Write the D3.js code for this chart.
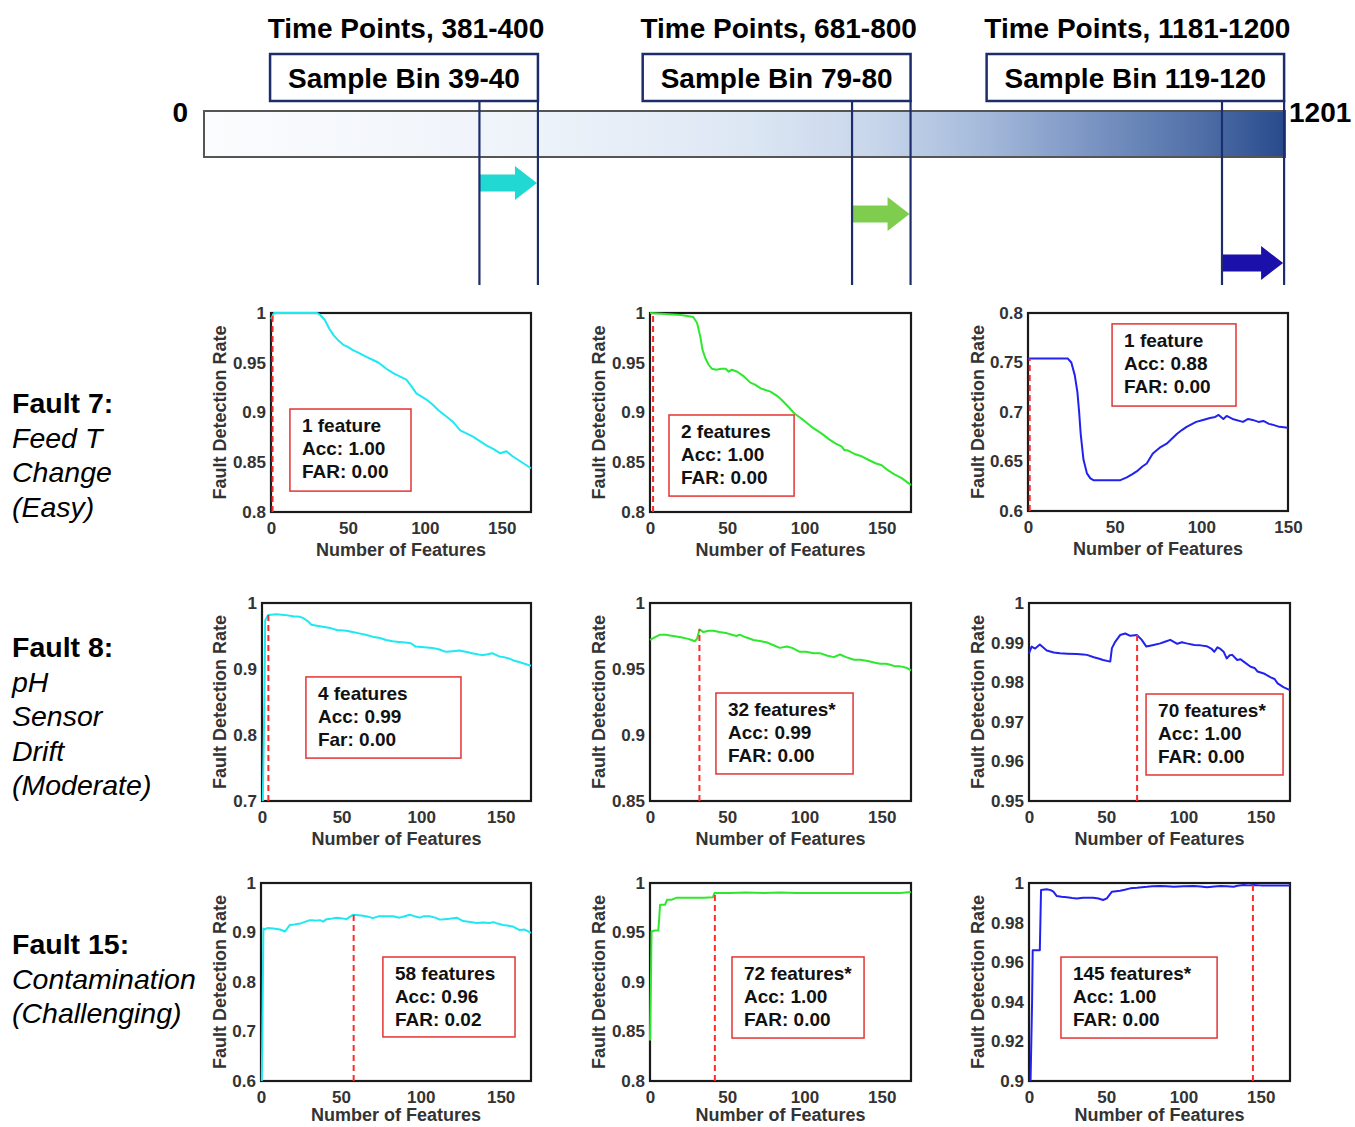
<!DOCTYPE html>
<html>
<head>
<meta charset="utf-8">
<script src="https://cdn.jsdelivr.net/npm/d3@7"></script>
<style>
  body { margin: 0; background: #fff; }
  text { font-family: "Liberation Sans", Arial, sans-serif; }
</style>
</head>
<body>
<svg id="chart"></svg>
<script>
// ---- timeline data ----
const timeMax = 1201
const timeRanges = ['381-400', '681-800', '1181-1200']
const binLabels = ['39-40', '79-80', '119-120']
const binStart = [306, 720, 1131]
const binEnd = [371, 785, 1200]

// ---- fault rows ----
const faultNames = ['Fault 7:', 'Fault 8:', 'Fault 15:']
const faultDesc = [
  ['Feed T', 'Change', '(Easy)'],
  ['pH', 'Sensor', 'Drift', '(Moderate)'],
  ['Contamination', '(Challenging)']
]

// ---- series: [number of features, fault detection rate] ----
const f7Bin40 = [[0,0.994],[2,1],[30,1],[32,0.998],[35,0.993],[38,0.984],[40.5,0.978],[44,0.972],[47,0.968],[50,0.966],[53,0.963],[57,0.960],[62,0.956],[66,0.953],[70,0.950],[75,0.944],[80,0.939],[84,0.936],[88,0.933],[91,0.927],[94.6,0.919],[98,0.916],[101,0.913],[105,0.908],[109,0.902],[114,0.896],[118,0.891],[123,0.882],[127,0.879],[131,0.876],[136,0.871],[140,0.867],[145,0.863],[149,0.859],[153,0.861],[157,0.856],[160,0.853],[164,0.849],[169,0.844]]
const f7Bin80 = [[0,1],[10,0.999],[20,0.998],[28,0.996],[30.5,0.990],[32.6,0.976],[34,0.963],[36,0.954],[38,0.948],[40,0.944],[43,0.943],[46,0.944],[49,0.944],[51,0.941],[53,0.943],[56.5,0.941],[61,0.936],[65,0.930],[68,0.928],[72,0.924],[78,0.921],[82,0.917],[85,0.913],[90,0.905],[93.5,0.899],[98,0.894],[102,0.889],[106,0.884],[111,0.879],[116,0.873],[120,0.869],[124,0.866],[126,0.862],[128,0.862],[133,0.858],[137,0.856],[142,0.852],[146,0.849],[150,0.847],[154,0.842],[158,0.838],[163,0.834],[169,0.827]]
const f7Bin120 = [[0,0.754],[23,0.754],[25,0.750],[27,0.737],[28.5,0.720],[29.5,0.700],[30.4,0.678],[32,0.652],[34,0.638],[36,0.633],[38,0.631],[45,0.631],[53,0.631],[57,0.634],[60,0.637],[62.7,0.640],[66,0.645],[68.5,0.648],[72,0.658],[76,0.664],[80,0.668],[83,0.673],[86,0.678],[89,0.682],[91.5,0.685],[97,0.690],[101,0.692],[105,0.694],[108,0.695],[110,0.697],[112.7,0.693],[114.6,0.696],[118,0.693],[124,0.690],[127,0.693],[129.6,0.692],[133,0.690],[135.8,0.691],[139,0.688],[141.5,0.687],[145,0.685],[150,0.684]]
const f8Bin40 = [[0.5,0.700],[1.5,0.85],[2,0.974],[4,0.982],[9,0.983],[14,0.982],[19.5,0.980],[24,0.979],[26,0.977],[29,0.972],[31,0.967],[38,0.964],[43,0.962],[47,0.959],[53,0.958],[57,0.956],[61,0.954],[65,0.952],[69.5,0.949],[74,0.947],[78,0.944],[82,0.942],[86,0.941],[90,0.940],[93.5,0.939],[96.5,0.934],[102,0.933],[107,0.932],[111,0.930],[115.5,0.926],[120,0.927],[124,0.928],[128,0.926],[132,0.924],[138,0.921],[141,0.922],[144.6,0.924],[149,0.919],[152,0.918],[155,0.916],[158,0.913],[161,0.911],[165,0.908],[169,0.905]]
const f8Bin80 = [[0,0.972],[3,0.974],[6.5,0.976],[10,0.976],[15,0.975],[20,0.974],[24,0.973],[27,0.972],[29,0.971],[30.5,0.973],[32,0.980],[34.6,0.978],[38,0.979],[41,0.979],[45,0.978],[50,0.977],[53,0.976],[56,0.975],[58,0.976],[62,0.974],[67,0.972],[72,0.971],[76,0.970],[80,0.968],[84,0.966],[88.7,0.967],[92,0.966],[97,0.963],[101,0.963],[106,0.962],[110,0.962],[115,0.960],[119,0.959],[123,0.961],[127,0.959],[132,0.957],[136,0.957],[141,0.956],[145,0.955],[149,0.954],[153,0.954],[156,0.953],[159,0.952],[162,0.952],[166,0.951],[169,0.949]]
const f8Bin120 = [[0,0.9873],[1.7,0.989],[4,0.9885],[7,0.9895],[11.5,0.988],[16,0.9875],[20,0.9873],[25,0.9872],[31,0.9871],[35,0.9870],[37.5,0.9869],[42,0.9863],[45,0.9860],[48,0.9856],[52.6,0.9852],[53.7,0.9886],[55.8,0.9902],[59,0.9919],[62.3,0.9923],[65.6,0.9917],[70,0.9919],[73,0.9907],[76,0.9890],[80.7,0.9894],[85,0.9898],[88,0.9902],[91.5,0.9907],[96,0.9897],[99,0.9901],[102,0.9898],[107,0.9894],[111,0.9893],[115,0.9891],[118,0.9885],[120,0.9877],[122,0.9888],[124,0.9884],[126,0.9877],[128,0.9860],[130,0.9868],[131.6,0.9869],[134.8,0.9856],[137,0.9858],[139,0.9852],[143.5,0.9839],[146,0.9836],[148,0.9827],[152,0.9822],[156.5,0.9812],[159,0.9808],[161,0.9797],[165,0.9787],[169,0.9780]]
const f15Bin40 = [[0.5,0.60],[1,0.75],[1.5,0.908],[2,0.906],[4,0.909],[7.7,0.908],[11.9,0.906],[15,0.902],[18,0.915],[21,0.916],[24.4,0.918],[27,0.921],[30.6,0.925],[34,0.924],[36.9,0.925],[39,0.922],[41,0.927],[44,0.928],[47.3,0.930],[50,0.929],[53.5,0.927],[57.7,0.936],[61,0.935],[64,0.934],[67,0.932],[70,0.929],[74,0.933],[78,0.933],[82.7,0.933],[86.8,0.930],[90,0.933],[93,0.936],[96,0.933],[99.4,0.930],[102,0.933],[105.6,0.933],[109,0.930],[112,0.926],[115,0.927],[118,0.928],[122.5,0.930],[126.5,0.923],[131,0.921],[135,0.919],[139,0.920],[143,0.919],[145.6,0.921],[148,0.918],[151.5,0.915],[154,0.914],[157.7,0.912],[162,0.905],[165,0.906],[169,0.899]]
const f15Bin80 = [[0,0.841],[0.6,0.90],[1,0.951],[3,0.952],[5.4,0.952],[6,0.965],[6.5,0.978],[9.7,0.978],[11,0.983],[13.8,0.983],[17,0.985],[26,0.985],[35,0.985],[40.7,0.9855],[41.8,0.990],[51.9,0.990],[62,0.9905],[73.6,0.990],[84,0.9905],[95,0.990],[106,0.990],[117,0.990],[127,0.990],[138,0.990],[149,0.990],[162,0.990],[169,0.991]]
const f15Bin120 = [[1,0.90],[2,0.94],[2.4,0.966],[7,0.966],[7.8,0.9965],[11.5,0.9968],[14,0.9964],[15.8,0.9956],[18,0.9934],[21,0.993],[24.5,0.9928],[28,0.9924],[31,0.9922],[35,0.9926],[38,0.9925],[41.6,0.9926],[45,0.9922],[48,0.9914],[50.4,0.9922],[53.7,0.9956],[59,0.9961],[62,0.9966],[65.6,0.9973],[70,0.9976],[73,0.9979],[76.4,0.9981],[80,0.9984],[85,0.9985],[89,0.9983],[93.8,0.9981],[100,0.9984],[106.7,0.9985],[111,0.9982],[115.3,0.9978],[120,0.9982],[124,0.9985],[128,0.9983],[132.5,0.9981],[135,0.9986],[139,0.9990],[142,0.9988],[145.6,0.9990],[150,0.9988],[154,0.9987],[160,0.9987],[163,0.9987],[169,0.9987]]

const series = [f7Bin40, f7Bin80, f7Bin120, f8Bin40, f8Bin80, f8Bin120, f15Bin40, f15Bin80, f15Bin120]
const xMax = [169, 169, 150, 169, 169, 169, 169, 169, 169]
const yDomains = [[0.8, 1], [0.8, 1], [0.6, 0.8], [0.7, 1], [0.85, 1], [0.95, 1], [0.6, 1], [0.8, 1], [0.9, 1]]
const yStep = [0.05, 0.05, 0.05, 0.1, 0.05, 0.01, 0.1, 0.05, 0.02]
const xTickValues = [0, 50, 100, 150]
const markerX = [1, 2, 1, 4, 32, 70, 58, 42, 145]

// annotation texts
const featLabels = ['1 feature', '2 features', '1 feature', '4 features', '32 features*', '70 features*', '58 features', '72 features*', '145 features*']
const accValues = ['1.00', '1.00', '0.88', '0.99', '0.99', '1.00', '0.96', '1.00', '1.00']
const farNames = ['FAR', 'FAR', 'FAR', 'Far', 'FAR', 'FAR', 'FAR', 'FAR', 'FAR']
const farValues = ['0.00', '0.00', '0.00', '0.00', '0.00', '0.00', '0.02', '0.00', '0.00']
// annotation box corners in data units: [x0, x1, yTop, yBottom]
const annotBoxes = [
  [12.3, 91, 0.9035, 0.821], [12.3, 93.3, 0.8975, 0.816], [48.5, 120, 0.789, 0.706],
  [27.6, 125, 0.888, 0.765], [42.7, 131.5, 0.9318, 0.8705], [75.8, 164.5, 0.97702, 0.95657],
  [76.3, 159, 0.8505, 0.689], [53.1, 138.6, 0.9253, 0.8434], [20.7, 121.8, 0.9626, 0.9217]
]

// ---- layout ----
const W = 1355, H = 1127
const panelRects = [
  [271, 313, 531, 512], [650, 313, 911, 512], [1028, 313, 1288, 511],
  [262, 603, 531, 801], [650, 603, 911, 801], [1029, 603, 1290, 801],
  [261, 883, 531, 1081], [650, 883, 911, 1081], [1029, 883, 1290, 1081]
]
const yLabelX = [219, 598, 977]
const lineColors = ['#1ee8f2', '#2de82d', '#2222ee']
const arrowColors = ['#22d8d2', '#7fcd4f', '#1b10aa']
const arrowY = [183, 214, 263]
const rowLabelY = [413, 657, 954]
const navy = '#1d2c6b'

const svg = d3.select('#chart').attr('width', W).attr('height', H)

// ---- top timeline ----
const defs = svg.append('defs')
const grad = defs.append('linearGradient').attr('id', 'timeGrad')
  .attr('x1', '0%').attr('x2', '100%').attr('y1', '0%').attr('y2', '0%')
;[[0, '#fbfcfe'], [0.3, '#eef3fa'], [0.5, '#dde7f4'], [0.62, '#c8d6eb'], [0.72, '#a5badb'], [0.82, '#7b95c3'], [0.92, '#5170a8'], [1, '#284a8c']]
  .forEach(([o, c]) => grad.append('stop').attr('offset', o).attr('stop-color', c))

const tx = d3.scaleLinear().domain([0, timeMax]).range([204, 1285])

svg.append('rect')
  .attr('x', tx(0)).attr('y', 111)
  .attr('width', tx(timeMax) - tx(0)).attr('height', 46)
  .attr('fill', 'url(#timeGrad)')
  .attr('stroke', '#555').attr('stroke-width', 2)

svg.append('text').attr('x', tx(0) - 16).attr('y', 122)
  .attr('text-anchor', 'end').attr('font-size', 28).attr('font-weight', 'bold').text('0')
svg.append('text').attr('x', tx(timeMax) + 4).attr('y', 122)
  .attr('font-size', 28).attr('font-weight', 'bold').text(String(timeMax))

binLabels.forEach((b, i) => {
  let g = svg.append('g')
  let x0 = tx(binStart[i]), x1 = tx(binEnd[i])

  // arrow
  let cy = arrowY[i], len = x1 - x0 - 1, head = 22
  g.append('path')
    .attr('d', `M${x0},${cy - 8.5} H${x0 + len - head} V${cy - 17} L${x0 + len},${cy} L${x0 + len - head},${cy + 17} V${cy + 8.5} H${x0} Z`)
    .attr('fill', arrowColors[i])

  // bracket lines
  ;[x0, x1].forEach(x => {
    g.append('line').attr('x1', x).attr('x2', x).attr('y1', 100).attr('y2', 285)
      .attr('stroke', navy).attr('stroke-width', 2.2)
  })

  // bin box, right aligned on bracket end
  let label = g.append('text').attr('font-size', 28).attr('font-weight', 'bold')
    .attr('text-anchor', 'middle').text('Sample Bin ' + b)
  let tw = label.node().getComputedTextLength()
  let bw = tw + 36
  let bx = x1 - bw
  g.insert('rect', 'text').attr('x', bx).attr('y', 54).attr('width', bw).attr('height', 47)
    .attr('fill', '#fff').attr('stroke', navy).attr('stroke-width', 2.5)
  label.attr('x', bx + bw / 2).attr('y', 88)

  g.append('text').attr('x', bx + bw / 2 + 2).attr('y', 38)
    .attr('text-anchor', 'middle').attr('font-size', 28).attr('font-weight', 'bold')
    .text('Time Points, ' + timeRanges[i])
})

// ---- row labels ----
faultNames.forEach((name, r) => {
  let t = svg.append('text').attr('x', 12).attr('y', rowLabelY[r]).attr('font-size', 28.5)
  t.append('tspan').attr('x', 12).attr('font-weight', 'bold').text(name)
  faultDesc[r].forEach(d => {
    t.append('tspan').attr('x', 12).attr('dy', 34.5).attr('font-style', 'italic').text(d)
  })
})

// ---- panels ----
const fmt = d => String(+d.toFixed(3))

series.forEach((data, i) => {
  let [left, top, right, bottom] = panelRects[i]
  let col = i % 3
  let x = d3.scaleLinear().domain([0, xMax[i]]).range([left, right])
  let y = d3.scaleLinear().domain(yDomains[i]).range([bottom, top])
  let g = svg.append('g')

  let yTicks = d3.range(yDomains[i][0], yDomains[i][1] + yStep[i] / 2, yStep[i]).map(v => +v.toFixed(3))

  let yAxis = g.append('g').attr('transform', `translate(${left},0)`)
    .call(d3.axisLeft(y).tickValues(yTicks).tickFormat(fmt).tickSize(0).tickPadding(5))
  let xAxis = g.append('g').attr('transform', `translate(0,${bottom})`)
    .call(d3.axisBottom(x).tickValues(xTickValues).tickFormat(d3.format('d')).tickSize(0).tickPadding(10))
  ;[yAxis, xAxis].forEach(a => {
    a.select('.domain').remove()
    a.selectAll('text').attr('font-size', 17).attr('font-weight', 'bold')
      .attr('fill', '#333').style('font-family', '"Liberation Sans", Arial, sans-serif')
  })

  // axis titles
  g.append('text')
    .attr('transform', `translate(${yLabelX[col] + 6.5},${(top + bottom) / 2}) rotate(-90)`)
    .attr('text-anchor', 'middle').attr('font-size', 18).attr('font-weight', 'bold')
    .attr('fill', '#333').text('Fault Detection Rate')
  g.append('text')
    .attr('x', (left + right) / 2).attr('y', Math.min(bottom + 44, H - 6))
    .attr('text-anchor', 'middle').attr('font-size', 18).attr('font-weight', 'bold')
    .attr('fill', '#333').text('Number of Features')

  // frame (drawn under the curves, as in the original)
  g.append('rect').attr('x', left).attr('y', top)
    .attr('width', right - left).attr('height', bottom - top)
    .attr('fill', 'none').attr('stroke', '#1a1a1a').attr('stroke-width', 2.2)

  // selected feature marker
  let mx = markerX[i]
  let bis = d3.bisector(d => d[0]).left
  let k = Math.min(Math.max(bis(data, mx), 1), data.length - 1)
  let a = data[k - 1], b = data[k]
  let my = a[1] + (b[1] - a[1]) * (mx - a[0]) / (b[0] - a[0])
  my = Math.min(Math.max(my, yDomains[i][0]), yDomains[i][1])

  // series line
  g.append('path').datum(data)
    .attr('d', d3.line().x(d => x(d[0])).y(d => y(d[1])))
    .attr('fill', 'none').attr('stroke', lineColors[col]).attr('stroke-width', 2)
    .attr('stroke-linejoin', 'round')

  g.append('line')
    .attr('x1', x(mx)).attr('x2', x(mx)).attr('y1', y(yDomains[i][0])).attr('y2', y(my))
    .attr('stroke', '#ff2b2b').attr('stroke-width', 2).attr('stroke-dasharray', '6,4')

  // annotation box
  let [bx0, bx1, byT, byB] = annotBoxes[i]
  g.append('rect')
    .attr('x', x(bx0)).attr('y', y(byT))
    .attr('width', x(bx1) - x(bx0)).attr('height', y(byB) - y(byT))
    .attr('fill', 'none').attr('stroke', '#e33434').attr('stroke-width', 1.5)
  let lines = [featLabels[i], 'Acc: ' + accValues[i], farNames[i] + ': ' + farValues[i]]
  g.append('g').selectAll('text')
    .data(lines)
    .enter()
    .append('text')
    .attr('x', x(bx0) + 12)
    .attr('y', (d, j) => y(byT) + 23 + j * 23)
    .attr('font-size', 19).attr('font-weight', 'bold').attr('fill', '#111')
    .text(d => d)
})
</script>
</body>
</html>
